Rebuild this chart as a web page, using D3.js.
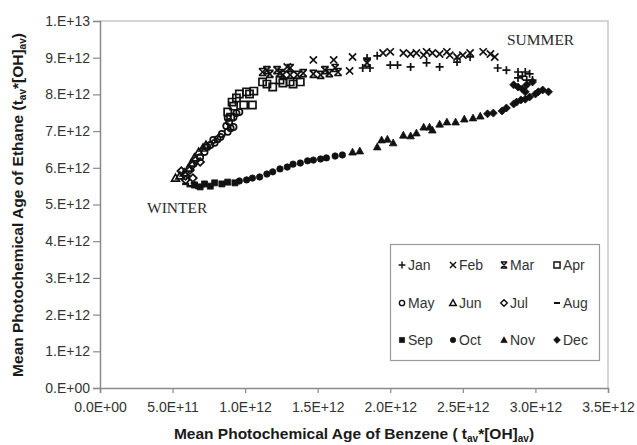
<!DOCTYPE html>
<html>
<head>
<meta charset="utf-8">
<script src="https://cdn.jsdelivr.net/npm/d3@7"></script>
<style>
  body { margin: 0; background: #fff; }
  svg { display: block; font-family: "Liberation Sans", Arial, sans-serif; }
</style>
</head>
<body>
<svg width="637" height="445"></svg>
<script>
// values in units of 1E12 : [benzene age, ethane age]
var UNIT = 1e12;

var months = ["Jan", "Feb", "Mar", "Apr", "May", "Jun", "Jul", "Aug", "Sep", "Oct", "Nov", "Dec"];

var janPts = [[1.81,8.72],[1.86,8.72],[1.84,8.99],[1.91,9.05],[2.00,8.80],[2.05,8.80],[2.14,8.75],
  [2.25,8.86],[2.34,8.75],[2.46,8.88],[2.55,9.02],[2.74,8.72],[2.80,8.66],[2.88,8.61],[2.93,8.61],
  [2.96,8.56],[2.88,8.45],[2.94,8.39],[2.98,8.39],[2.91,8.50]];
var febPts = [[1.29,8.75],[1.47,8.94],[1.61,8.94],[1.72,8.64],[1.74,9.02],[1.95,9.13],[2.00,9.16],
  [2.09,9.13],[2.14,9.10],[2.18,9.13],[2.23,9.07],[2.25,9.16],[2.29,9.13],[2.34,9.10],[2.39,9.16],
  [2.41,9.07],[2.46,9.02],[2.50,9.07],[2.55,9.13],[2.64,9.16],[2.69,9.10],[2.72,9.02]];
var marPts = [[1.12,8.61],[1.15,8.66],[1.17,8.56],[1.22,8.66],[1.24,8.58],[1.26,8.53],[1.31,8.72],
  [1.31,8.53],[1.36,8.53],[1.40,8.58],[1.47,8.56],[1.52,8.53],[1.55,8.66],[1.58,8.58],[1.62,8.72],
  [1.64,8.61],[1.84,8.86]];
var aprPts = [[0.88,7.52],[0.90,7.38],[0.91,7.79],[0.92,7.68],[0.94,7.90],[0.96,8.01],[0.99,7.71],
  [1.01,8.07],[1.03,8.01],[1.05,7.71],[1.06,8.09],[1.12,8.34],[1.15,8.28],[1.19,8.20],[1.24,8.39],
  [1.26,8.31],[1.31,8.34],[1.33,8.28],[1.38,8.34]];
var mayPts = [[0.69,6.29],[0.72,6.43],[0.74,6.57],[0.76,6.62],[0.78,6.76],[0.81,6.78],[0.83,6.84],
  [0.84,6.92],[0.88,6.98],[0.90,7.08],[0.92,7.11],[0.89,7.25],[0.88,7.36],[0.92,7.38],[0.94,7.49],
  [0.96,7.52],[0.87,7.14],[0.79,6.68]];
var junPts = [[0.52,5.72],[0.55,5.78],[0.58,5.86],[0.61,5.99],[0.63,6.13],[0.65,6.27],[0.68,6.43],
  [0.71,6.54],[0.73,6.62]];
var julPts = [[0.56,5.91],[0.59,5.78],[0.62,5.94],[0.64,6.08],[0.66,6.21],[0.69,6.16],[0.59,5.67],
  [0.64,5.72]];
var augPts = [[0.59,5.56],[0.62,5.50],[0.65,5.59],[0.68,5.45],[0.70,5.50]];
var sepPts = [[0.65,5.53],[0.69,5.48],[0.72,5.56],[0.76,5.50],[0.79,5.59],[0.84,5.56],[0.88,5.61],
  [0.93,5.59]];
var octPts = [[0.96,5.64],[1.01,5.67],[1.05,5.72],[1.10,5.75],[1.15,5.83],[1.19,5.89],[1.24,5.97],
  [1.29,6.02],[1.33,6.10],[1.38,6.13],[1.43,6.19],[1.47,6.21],[1.52,6.24],[1.56,6.27],[1.62,6.32],
  [1.67,6.35]];
var novPts = [[1.74,6.43],[1.79,6.46],[1.91,6.57],[1.94,6.76],[1.98,6.78],[2.02,6.68],[2.09,6.89],
  [2.14,6.87],[2.18,6.95],[2.23,7.11],[2.27,7.11],[2.29,7.03],[2.34,7.19],[2.39,7.25],[2.45,7.25],
  [2.51,7.33],[2.57,7.36],[2.62,7.41]];
var decPts = [[2.67,7.47],[2.71,7.49],[2.77,7.55],[2.80,7.63],[2.85,7.74],[2.87,7.79],[2.90,7.85],
  [2.93,7.87],[2.96,7.93],[3.00,8.01],[3.02,8.07],[3.05,8.12],[3.09,8.07],[2.85,8.26],[2.88,8.20],
  [2.91,8.15],[2.94,8.26],[2.98,8.34],[2.93,8.07]];

var monthPts = [janPts, febPts, marPts, aprPts, mayPts, junPts, julPts, augPts, sepPts, octPts, novPts, decPts];
var markerKinds = ["plus", "cross", "star", "square", "circle", "triangle", "diamond", "dash",
  "squareFill", "circleFill", "triangleFill", "diamondFill"];

var xTickValues = [0, 0.5, 1.0, 1.5, 2.0, 2.5, 3.0, 3.5];
var xTickLabels = ["0.0E+00", "5.0E+11", "1.0E+12", "1.5E+12", "2.0E+12", "2.5E+12", "3.0E+12", "3.5E+12"];
var yTickValues = [0, 1, 2, 3, 4, 5, 6, 7, 8, 9, 10];
var yTickLabels = ["0.E+00", "1.E+12", "2.E+12", "3.E+12", "4.E+12", "5.E+12", "6.E+12", "7.E+12",
  "8.E+12", "9.E+12", "1.E+13"];

var margin = {top: 21, right: 29, bottom: 57, left: 100};
var width = 637, height = 445;

var svg = d3.select("svg");

var xScale = d3.scaleLinear()
  .domain([0, 3.5 * UNIT])
  .range([margin.left, width - margin.right]);
var yScale = d3.scaleLinear()
  .domain([0, 10 * UNIT])
  .range([height - margin.bottom, margin.top]);

// marker shapes, drawn like the spreadsheet ones
function markerPath(kind) {
  switch (kind) {
    case "plus": return "M-4,0H4M0,-4V4";
    case "cross": return "M-3.6,-3.6L3.6,3.6M-3.6,3.6L3.6,-3.6";
    case "star": return "M-3.5,-3.5L3.5,3.5M-3.5,3.5L3.5,-3.5M-3.8,-3.5H3.8M-3.8,3.5H3.8";
    case "square": return "M-3.6,-3.6H3.6V3.6H-3.6Z";
    case "circle": return "M3.1,0A3.1,3.1 0 1 1 -3.1,0A3.1,3.1 0 1 1 3.1,0Z";
    case "triangle": return "M0,-3.9L3.9,3L-3.9,3Z";
    case "diamond": return "M0,-3.9L3.9,0L0,3.9L-3.9,0Z";
    case "dash": return "M-3.5,0H3.5";
    case "squareFill": return "M-3,-3H3V3H-3Z";
    case "circleFill": return "M3.2,0A3.2,3.2 0 1 1 -3.2,0A3.2,3.2 0 1 1 3.2,0Z";
    case "triangleFill": return "M0,-3.8L3.8,3L-3.8,3Z";
    case "diamondFill": return "M0,-4L4,0L0,4L-4,0Z";
  }
}
function markerStyle(sel, kind) {
  var filled = kind.indexOf("Fill") > 0;
  sel.attr("d", markerPath(kind))
    .attr("fill", filled ? "#111" : "none")
    .attr("stroke", "#111")
    .attr("stroke-width", kind == "dash" ? 2.4 : (filled ? 0.8 : 1.7));
}

// plot frame (top and right)
svg.append("path")
  .attr("d", "M" + margin.left + "," + margin.top + "H" + (width - margin.right) + "V" + (height - margin.bottom))
  .attr("fill", "none")
  .attr("stroke", "#c8c8c8")
  .attr("stroke-width", 1.5);

var xAxis = d3.axisBottom(xScale)
  .tickValues(xTickValues.map(function (v) { return v * UNIT; }))
  .tickFormat(function (d, i) { return xTickLabels[i]; })
  .tickSize(5)
  .tickPadding(9);
var yAxis = d3.axisLeft(yScale)
  .tickValues(yTickValues.map(function (v) { return v * UNIT; }))
  .tickFormat(function (d, i) { return yTickLabels[i]; })
  .tickSize(7)
  .tickPadding(3);

var gx = svg.append("g")
  .attr("transform", "translate(0," + (height - margin.bottom) + ")")
  .call(xAxis);
var gy = svg.append("g")
  .attr("transform", "translate(" + margin.left + ",0)")
  .call(yAxis);

[gx, gy].forEach(function (g) {
  g.select(".domain").attr("stroke", "#8a8a8a").attr("stroke-width", 1.5);
  g.selectAll(".tick line").attr("stroke", "#8a8a8a").attr("stroke-width", 1.2);
  g.selectAll(".tick text")
    .attr("fill", "#333")
    .style("font-size", "14px")
    .style("font-family", "'Liberation Sans', Arial, sans-serif");
});

// points
monthPts.forEach(function (pts, i) {
  svg.append("g")
    .attr("class", "month-" + months[i])
    .selectAll("path")
    .data(pts)
    .enter().append("path")
    .attr("transform", function (d) {
      return "translate(" + xScale(d[0] * UNIT) + "," + yScale(d[1] * UNIT) + ")";
    })
    .call(markerStyle, markerKinds[i]);
});

// season labels
svg.append("text")
  .attr("x", 147).attr("y", 213)
  .attr("fill", "#2a2a2a")
  .style("font-family", "'Liberation Serif', 'Times New Roman', serif")
  .style("font-size", "15.5px")
  .text("WINTER");
svg.append("text")
  .attr("x", 507).attr("y", 45)
  .attr("fill", "#2a2a2a")
  .style("font-family", "'Liberation Serif', 'Times New Roman', serif")
  .style("font-size", "15.5px")
  .text("SUMMER");

// axis titles
var xt = svg.append("text")
  .attr("x", (margin.left + width - margin.right) / 2)
  .attr("y", 439)
  .attr("text-anchor", "middle")
  .attr("fill", "#1a1a1a")
  .style("font-size", "15.5px")
  .style("font-weight", "bold");
xt.append("tspan").text("Mean Photochemical Age of Benzene ( t");
xt.append("tspan").attr("dy", 3).style("font-size", "10px").text("av");
xt.append("tspan").attr("dy", -3).text("*[OH]");
xt.append("tspan").attr("dy", 3).style("font-size", "10px").text("av");
xt.append("tspan").attr("dy", -3).text(")");

var yt = svg.append("text")
  .attr("transform", "translate(23," + 205 + ") rotate(-90)")
  .attr("text-anchor", "middle")
  .attr("fill", "#1a1a1a")
  .style("font-size", "15.5px")
  .style("font-weight", "bold");
yt.append("tspan").text("Mean Photochemical Age of Ethane (t");
yt.append("tspan").attr("dy", 3).style("font-size", "10px").text("av");
yt.append("tspan").attr("dy", -3).text("*[OH]");
yt.append("tspan").attr("dy", 3).style("font-size", "10px").text("av");
yt.append("tspan").attr("dy", -3).text(")");

// legend
var legend = svg.append("g");
legend.append("rect")
  .attr("x", 390.5).attr("y", 244.5)
  .attr("width", 209).attr("height", 116)
  .attr("fill", "#fff")
  .attr("stroke", "#9a9a9a")
  .attr("stroke-width", 1.2);

var colX = [402, 453, 504, 557];
var rowY = [265, 303, 340];
months.forEach(function (m, i) {
  var cx = colX[i % 4], cy = rowY[Math.floor(i / 4)];
  legend.append("path")
    .attr("transform", "translate(" + cx + "," + cy + ") scale(0.85)")
    .call(markerStyle, markerKinds[i]);
  legend.append("text")
    .attr("x", cx + 6).attr("y", cy + 5)
    .attr("fill", "#333")
    .style("font-size", "14px")
    .text(m);
});
</script>
</body>
</html>
